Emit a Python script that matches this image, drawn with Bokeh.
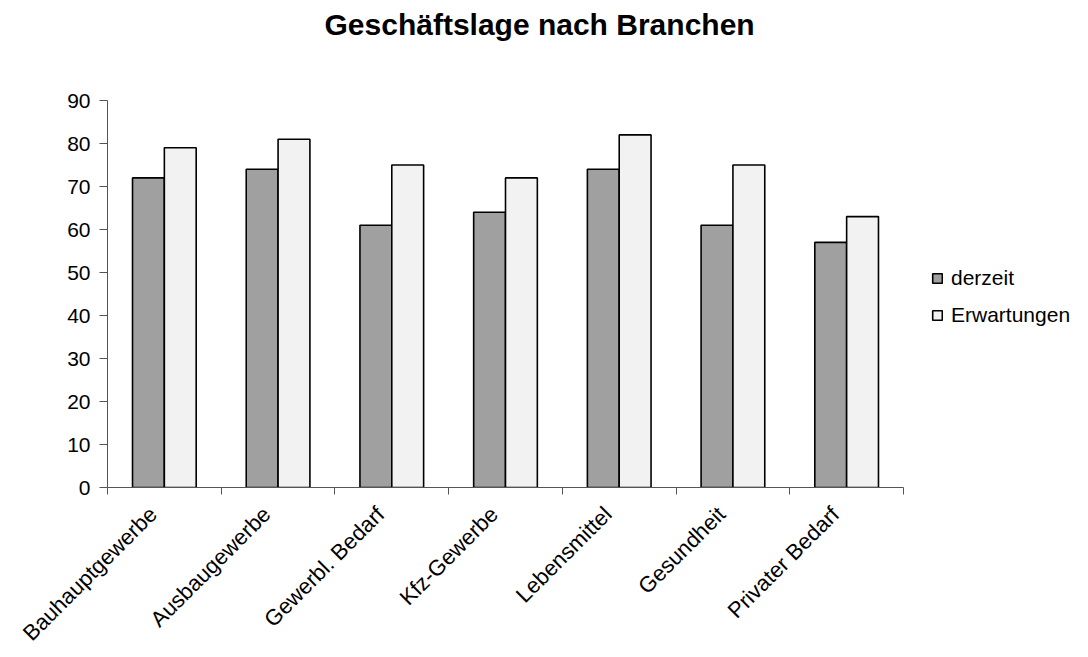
import math
from bokeh.plotting import figure
from bokeh.models import FixedTicker, Range1d, Legend, LegendItem, ColumnDataSource, Title
from bokeh.embed import file_html
from bokeh.resources import INLINE

categories = ["Bauhauptgewerbe", "Ausbaugewerbe", "Gewerbl. Bedarf", "Kfz-Gewerbe",
              "Lebensmittel", "Gesundheit", "Privater Bedarf"]
derzeit = [72, 74, 61, 64, 74, 61, 57]
erwartungen = [79, 81, 75, 72, 82, 75, 63]
y_ticks = [0, 10, 20, 30, 40, 50, 60, 70, 80, 90]

FONT = "Liberation Sans"
n = len(categories)
centers = [i + 0.5 for i in range(n)]
bw = 0.28
label_shift = 0.1  # rotated labels end slightly left of the group centre

# frame extends to the right to host the legend; axis limited to the categories
AXIS_PX = 796
FRAME_PX = 973

src = ColumnDataSource(dict(
    x1=[c - bw / 2 for c in centers], x2=[c + bw / 2 for c in centers],
    d=derzeit, e=erwartungen))

p = figure(width=1088, height=657, output_backend="svg", toolbar_location=None,
           x_range=Range1d(0, n * FRAME_PX / AXIS_PX), y_range=Range1d(0, 90),
           min_border_left=107, min_border_right=1088 - 107 - FRAME_PX,
           min_border_top=100, min_border_bottom=170)
p.title = None
p.outline_line_color = None
p.grid.grid_line_color = None

r1 = p.vbar(x="x1", top="d", width=bw, source=src, fill_color="#A0A0A0",
            line_color="black", line_width=1.6)
r2 = p.vbar(x="x2", top="e", width=bw, source=src, fill_color="#F2F2F2",
            line_color="black", line_width=1.6)

# x axis
label_pos = [c - label_shift for c in centers]
xa = p.xaxis[0]
xa.bounds = (0, n)
xa.ticker = FixedTicker(ticks=label_pos, minor_ticks=list(range(n + 1)))
xa.major_label_overrides = {c: lab for c, lab in zip(label_pos, categories)}
xa.major_tick_line_color = None
xa.major_tick_out = 7
xa.minor_tick_line_color = "#555555"
xa.minor_tick_out = 7
xa.minor_tick_in = 0
xa.axis_line_color = "#555555"
xa.major_label_orientation = math.pi / 4
xa.major_label_text_font = FONT
xa.major_label_text_font_size = "22px"
xa.major_label_text_color = "black"
xa.major_label_standoff = 16

ya = p.yaxis[0]
ya.ticker = FixedTicker(ticks=y_ticks)
ya.minor_tick_line_color = None
ya.major_tick_out = 8
ya.major_tick_in = 0
ya.major_tick_line_color = "#555555"
ya.axis_line_color = "#555555"
ya.major_label_text_font = FONT
ya.major_label_text_font_size = "21px"
ya.major_label_text_color = "black"
ya.major_label_standoff = 9

legend = Legend(items=[LegendItem(label="derzeit", renderers=[r1]),
                       LegendItem(label="Erwartungen", renderers=[r2])],
                location=(824, 160), border_line_color=None,
                background_fill_alpha=0, padding=0, margin=0,
                glyph_width=12, glyph_height=12, label_standoff=8,
                spacing=13, label_text_font=FONT, label_text_font_size="21px",
                label_text_color="black", label_height=24)
p.add_layout(legend, "center")

spacer = Title(text=" ", text_font_size="1px", standoff=57)
p.add_layout(spacer, "above")
title = Title(text="Geschäftslage nach Branchen", align="left", offset=217,
              standoff=0,
              text_font=FONT, text_font_size="30px", text_font_style="bold",
              text_color="black")
p.add_layout(title, "above")

open("out.html", "w").write(file_html(p, INLINE))
